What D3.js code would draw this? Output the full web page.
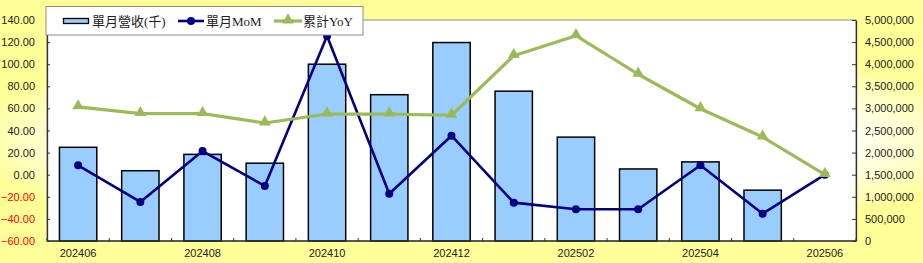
<!DOCTYPE html>
<html>
<head>
<meta charset="utf-8">
<script src="https://cdn.jsdelivr.net/npm/d3@7"></script>
<style>
  body { margin: 0; }
  svg { display: block; }
</style>
</head>
<body>
<script>
// data
const months = ["202406", "202407", "202408", "202409", "202410", "202411", "202412",
  "202501", "202502", "202503", "202504", "202505", "202506"];
const revenue = [2120000, 1590000, 1960000, 1760000, 4000000, 3310000, 4490000,
  3390000, 2350000, 1630000, 1790000, 1150000, null]; // 單月營收(千)
const mom = [8.5, -24.7, 21.4, -10.2, 125.5, -17.2, 35.3, -25.3, -31.3, -31.3, 8.5, -35.3, 0];
const yoy = [61.3, 55.2, 55.2, 46.8, 54.9, 54.9, 53.8, 107.7, 125.8, 90.9, 59.7, 34.1, 0];
const leftTicks = d3.range(-60, 141, 20);
const rightTicks = d3.range(0, 5000001, 500000);
const legendNames = ["單月營收(千)", "單月MoM", "累計YoY"];

const W = 923, H = 263;
const plot = { left: 47, right: 856, top: 20, bottom: 241 };

const svg = d3.select("body").append("svg").attr("width", W).attr("height", H);

// chart area background: yellow with a pale centre
const defs = svg.append("defs");
const grad = defs.append("radialGradient")
  .attr("id", "bg")
  .attr("gradientUnits", "userSpaceOnUse")
  .attr("cx", 480).attr("cy", 140).attr("r", 520)
  .attr("gradientTransform", "translate(480,140) scale(1,0.2) translate(-480,-140)");
grad.append("stop").attr("offset", 0).attr("stop-color", "#ffffff");
grad.append("stop").attr("offset", 0.68).attr("stop-color", "#ffffff");
grad.append("stop").attr("offset", 1).attr("stop-color", "#ffff99");
svg.append("rect").attr("width", W).attr("height", H).attr("fill", "#ffff99");
svg.append("rect").attr("width", W).attr("height", H).attr("fill", "url(#bg)");

svg.append("rect")
  .attr("x", plot.left).attr("y", plot.top)
  .attr("width", plot.right - plot.left).attr("height", plot.bottom - plot.top)
  .attr("fill", "#fff").attr("stroke", "#8c8c8c").attr("stroke-width", 1);

const x = d3.scaleBand().domain(months).range([plot.left, plot.right])
  .paddingInner(0.4).paddingOuter(0.2);
const cx = (m) => x(m) + x.bandwidth() / 2;
const yL = d3.scaleLinear().domain([-60, 140]).range([plot.bottom, plot.top]);
const yR = d3.scaleLinear().domain([0, 5000000]).range([plot.bottom, plot.top]);

const axisFont = "11px 'Liberation Sans', Arial, sans-serif";

// left axis
const gL = svg.append("g").attr("transform", `translate(${plot.left},0)`)
  .call(d3.axisLeft(yL).tickValues(leftTicks).tickFormat(d3.format(".2f"))
    .tickSizeInner(-3).tickSizeOuter(0).tickPadding(12));
gL.selectAll("text").style("font", axisFont)
  .attr("fill", (d) => (d < 0 ? "#ff0000" : "#222"));

// right axis
const gR = svg.append("g").attr("transform", `translate(${plot.right},0)`)
  .call(d3.axisRight(yR).tickValues(rightTicks).tickFormat(d3.format(","))
    .tickSizeInner(-4).tickSizeOuter(0).tickPadding(9));
gR.selectAll("text").style("font", axisFont).attr("fill", "#222");

[gL, gR].forEach((g) => {
  g.select(".domain").attr("stroke", "#333").attr("stroke-width", 1.3);
  g.selectAll(".tick line").attr("stroke", "#333");
});

// bars
svg.append("g").selectAll("rect")
  .data(months.map((m, i) => ({ m, v: revenue[i] })).filter((d) => d.v != null))
  .join("rect")
  .attr("x", (d) => x(d.m))
  .attr("y", (d) => yR(d.v))
  .attr("width", x.bandwidth())
  .attr("height", (d) => yR(0) - yR(d.v))
  .attr("fill", "#99ccff")
  .attr("stroke", "#000")
  .attr("stroke-width", 1.5);

// bottom axis: boundary ticks, label every other month
const gX = svg.append("g");
gX.append("line")
  .attr("x1", plot.left).attr("x2", plot.right)
  .attr("y1", plot.bottom).attr("y2", plot.bottom)
  .attr("stroke", "#333").attr("stroke-width", 1.3);
gX.selectAll("line.tk")
  .data(d3.range(months.length + 1))
  .join("line").attr("class", "tk")
  .attr("x1", (i) => plot.left + i * x.step()).attr("x2", (i) => plot.left + i * x.step())
  .attr("y1", plot.bottom).attr("y2", plot.bottom - 3)
  .attr("stroke", "#333");
gX.selectAll("text")
  .data(months.filter((m, i) => i % 2 === 0))
  .join("text")
  .attr("x", (m) => cx(m)).attr("y", plot.bottom + 16)
  .attr("text-anchor", "middle")
  .style("font", axisFont).attr("fill", "#222")
  .text((m) => m);

// lines (YoY drawn last so it sits on top, like the reference)
const momColor = "#000080", yoyColor = "#9bbb59";
const tri = d3.symbol().type(d3.symbolTriangle).size(60);

const lineL = d3.line().x((d) => cx(d.m)).y((d) => yL(d.v));
const yoyData = months.map((m, i) => ({ m, v: yoy[i] }));
const momData = months.map((m, i) => ({ m, v: mom[i] }));

svg.append("path").datum(momData).attr("d", lineL)
  .attr("fill", "none").attr("stroke", momColor).attr("stroke-width", 2.6)
  .attr("stroke-linejoin", "round");
svg.append("g").selectAll("circle").data(momData).join("circle")
  .attr("cx", (d) => cx(d.m)).attr("cy", (d) => yL(d.v)).attr("r", 4)
  .attr("fill", momColor);

svg.append("path").datum(yoyData).attr("d", lineL)
  .attr("fill", "none").attr("stroke", yoyColor).attr("stroke-width", 3.2)
  .attr("stroke-linejoin", "round");
svg.append("g").selectAll("path").data(yoyData).join("path")
  .attr("d", tri).attr("transform", (d) => `translate(${cx(d.m)},${yL(d.v) - 1})`)
  .attr("fill", yoyColor);

// legend
const lg = svg.append("g");
lg.append("rect").attr("x", 46).attr("y", 6.5).attr("width", 317).attr("height", 28.5)
  .attr("fill", "#fff").attr("stroke", "#8c8c8c");
const legendFont = "13px 'Liberation Serif', 'Noto Sans CJK TC', serif";
const ly = 21;
lg.append("rect").attr("x", 63.5).attr("y", ly - 2.5).attr("width", 25).attr("height", 5)
  .attr("fill", "#99ccff").attr("stroke", "#000").attr("stroke-width", 1.3);
lg.append("line").attr("x1", 178).attr("x2", 204).attr("y1", ly).attr("y2", ly)
  .attr("stroke", momColor).attr("stroke-width", 2.6);
lg.append("circle").attr("cx", 191).attr("cy", ly).attr("r", 4).attr("fill", momColor);
lg.append("line").attr("x1", 274).attr("x2", 302).attr("y1", ly).attr("y2", ly)
  .attr("stroke", yoyColor).attr("stroke-width", 3.2);
lg.append("path").attr("d", tri).attr("transform", `translate(288,${ly - 1})`).attr("fill", yoyColor);
lg.selectAll("text").data(legendNames).join("text")
  .attr("x", (d, i) => [92, 206, 303][i]).attr("y", ly + 4.5)
  .style("font", legendFont).attr("fill", "#222")
  .text((d) => d);
</script>
</body>
</html>
